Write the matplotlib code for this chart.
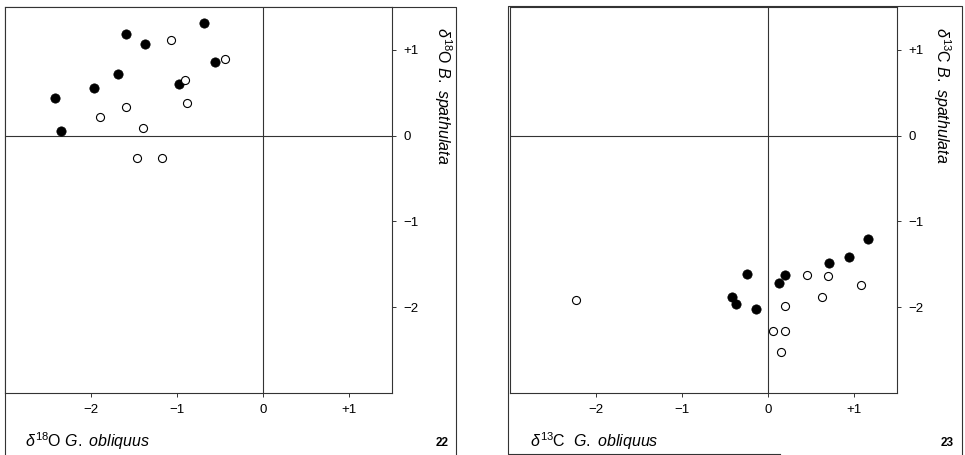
import matplotlib
matplotlib.use("Agg")
import matplotlib.pyplot as plt

plt.rcParams['font.family'] = ['Liberation Sans', 'DejaVu Sans']
plt.rcParams['mathtext.fontset'] = 'custom'
plt.rcParams['mathtext.rm'] = 'Liberation Sans'
plt.rcParams['mathtext.it'] = 'Liberation Sans:italic'
plt.rcParams['mathtext.bf'] = 'Liberation Sans:bold'

# fig 22 : d18O
o_filled_x = [-0.69, -1.59, -1.37, -0.56, -1.69, -0.98, -1.96, -2.42, -2.35]
o_filled_y = [1.31, 1.19, 1.07, 0.86, 0.72, 0.60, 0.55, 0.44, 0.06]
o_open_x = [-1.07, -0.44, -0.91, -0.88, -1.59, -1.90, -1.39, -1.46, -1.18]
o_open_y = [1.12, 0.89, 0.65, 0.38, 0.34, 0.22, 0.09, -0.26, -0.26]

# fig 23 : d13C
c_filled_x = [1.16, 0.94, 0.71, -0.24, 0.20, 0.13, -0.42, -0.37, -0.14]
c_filled_y = [-1.21, -1.41, -1.49, -1.61, -1.63, -1.72, -1.88, -1.96, -2.02]
c_open_x = [-2.23, 0.45, 0.70, 1.08, 0.63, 0.20, 0.06, 0.20, 0.15]
c_open_y = [-1.92, -1.62, -1.64, -1.74, -1.88, -1.98, -2.28, -2.28, -2.52]

xticks = [-2, -1, 0, 1]
xticklabels = ['\u22122', '\u22121', '0', '+1']
yticks = [1, 0, -1, -2]
yticklabels = ['+1', '0', '\u22121', '\u22122']

W, H = 965, 455
fig = plt.figure(figsize=(W / 100, H / 100), dpi=100)

lc = '#333333'

def panel(left_px, xs_f, ys_f, xs_o, ys_o, xlab, ylab, num, ylab_off):
    ax = fig.add_axes([left_px / W, (H - 393) / H, 387 / W, 386 / H])
    ax.set_xlim(-3, 1.5)
    ax.set_ylim(-3, 1.5)
    ax.axvline(0, color=lc, lw=0.8, zorder=1)
    ax.axhline(0, color=lc, lw=0.8, zorder=1)
    ax.plot(xs_f, ys_f, 'o', ms=6.7, mfc='black', mec='black', mew=0.5, zorder=3)
    ax.plot(xs_o, ys_o, 'o', ms=5.8, mfc='white', mec='black', mew=0.8, zorder=3)
    for s in ax.spines.values():
        s.set_linewidth(0.8)
        s.set_color(lc)
    ax.yaxis.tick_right()
    ax.set_xticks(xticks)
    ax.set_xticklabels(xticklabels, fontsize=9.5)
    ax.set_yticks(yticks)
    ax.set_yticklabels(yticklabels, fontsize=9.5)
    ax.tick_params(axis='both', direction='out', length=3, width=0.7, color=lc, pad=5)
    ax.tick_params(axis='x', pad=5)
    # labels
    fig.text((left_px + 20) / W, (H - 447) / H, xlab, fontsize=11.5, ha='left', va='baseline')
    fig.text((left_px + ylab_off) / W, (H - 27) / H, ylab, fontsize=11.5, rotation=270,
             ha='center', va='top')
    fig.text((left_px + 444) / W, (H - 446) / H, num, fontsize=8.5, fontweight='bold',
             ha='right', va='baseline')
    return ax

panel(5, o_filled_x, o_filled_y, o_open_x, o_open_y,
      r'$\delta^{18}$O $\it{G.\ obliquus}$', r'$\delta^{18}$O $\it{B.\ spathulata}$', '22', 438)
panel(510, c_filled_x, c_filled_y, c_open_x, c_open_y,
      r'$\delta^{13}$C  $\it{G.\ obliquus}$', r'$\delta^{13}$C $\it{B.\ spathulata}$', '23', 432)

# outer frames round each figure
frame = fig.add_axes([0, 0, 1, 1], facecolor='none', zorder=-1)
frame.set_xlim(0, W)
frame.set_ylim(H, 0)
frame.axis('off')
frame.plot([5, 5, 456, 456], [455, 7, 7, 455], color=lc, lw=0.8)
frame.plot([780, 508, 508, 962, 962], [454, 454, 6, 6, 455], color=lc, lw=0.8)

fig.savefig('out.png', dpi=100)
